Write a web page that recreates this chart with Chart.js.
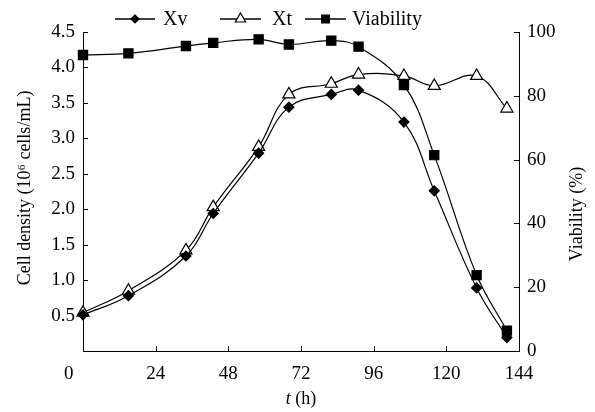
<!DOCTYPE html>
<html><head><meta charset="utf-8">
<script src="https://cdn.jsdelivr.net/npm/chart.js@4/dist/chart.umd.min.js"></script>
<style>html,body{margin:0;padding:0;background:#fff}#wrap{width:595px;height:412px;position:relative}</style>
</head><body><div id="wrap"><canvas id="c" width="595" height="412"></canvas></div>
<script>
// ---- data ----
const times = [0, 15, 34, 43, 58, 68, 82, 91, 106, 116, 130, 140];
const xv = [0.51, 0.78, 1.34, 1.94, 2.79, 3.44, 3.62, 3.68, 3.23, 2.26, 0.89, 0.19];
const xt = [0.54, 0.85, 1.42, 2.03, 2.88, 3.62, 3.77, 3.90, 3.88, 3.74, 3.88, 3.42];
const viability = [92.8, 93.3, 95.6, 96.6, 97.7, 96.1, 97.3, 95.4, 83.4, 61.4, 23.8, 6.4];
const xTicks = [0, 24, 48, 72, 96, 120, 144];
const leftTicks = [0.5, 1.0, 1.5, 2.0, 2.5, 3.0, 3.5, 4.0, 4.5];
const rightTicks = [0, 20, 40, 60, 80, 100];
const seriesNames = ['Xv', 'Xt', 'Viability'];
const leftTitle = 'Cell density (10\u2076 cells/mL)';
const rightTitle = 'Viability (%)';
const xTitleItalic = 't';
const xTitleRest = ' (h)';

const FONT = '"Liberation Serif", "Times New Roman", serif';
const pts = (ys) => times.map((t, i) => ({x: t, y: ys[i]}));

const common = {borderColor: '#000', borderWidth: 1.2, tension: 0.4, clip: false, pointBorderColor: '#000', pointBorderWidth: 1.2};
const datasets = [
  Object.assign({}, common, {label: seriesNames[0], data: pts(xv), yAxisID: 'y', pointStyle: 'rectRot', pointRadius: 5, pointBackgroundColor: '#000'}),
  Object.assign({}, common, {label: seriesNames[1], data: pts(xt), yAxisID: 'y', pointStyle: 'triangle', pointRadius: 7, pointBackgroundColor: '#fff'}),
  Object.assign({}, common, {label: seriesNames[2], data: pts(viability), yAxisID: 'y1', pointStyle: 'rect', pointRadius: 6.5, pointBackgroundColor: '#000'})
];

const decor = {
  id: 'decor',
  afterDraw(chart) {
    const ctx = chart.ctx, a = chart.chartArea, s = chart.scales;
    ctx.save();
    ctx.strokeStyle = '#000'; ctx.lineWidth = 1;
    // inward tick marks
    const L = 5;
    xTicks.forEach(v => { if (v === 0 || v === 144) return; const px = Math.round(s.x.getPixelForValue(v)) + 0.5; ctx.beginPath(); ctx.moveTo(px, a.bottom); ctx.lineTo(px, a.bottom - L); ctx.stroke(); });
    leftTicks.forEach(v => { const py = Math.round(s.y.getPixelForValue(v)) + 0.5; ctx.beginPath(); ctx.moveTo(a.left, py); ctx.lineTo(a.left + L, py); ctx.stroke(); });
    rightTicks.forEach(v => { if (v === 0) return; const py = Math.round(s.y1.getPixelForValue(v)) + 0.5; ctx.beginPath(); ctx.moveTo(a.right, py); ctx.lineTo(a.right - L, py); ctx.stroke(); });
    // axis titles
    ctx.fillStyle = '#000';
    ctx.font = '18px ' + FONT;
    ctx.textAlign = 'center'; ctx.textBaseline = 'middle';
    ctx.save(); ctx.translate(25, 188); ctx.rotate(-Math.PI / 2); ctx.fillText(leftTitle, 0, 0); ctx.restore();
    ctx.save(); ctx.translate(577, 214); ctx.rotate(-Math.PI / 2); ctx.fillText(rightTitle, 0, 0); ctx.restore();
    // x title with italic t
    ctx.textAlign = 'left';
    ctx.font = 'italic 18px ' + FONT; const w1 = ctx.measureText(xTitleItalic).width;
    ctx.font = '18px ' + FONT; const w2 = ctx.measureText(xTitleRest).width;
    const cx = (a.left + a.right) / 2, x0 = cx - (w1 + w2) / 2, ty = 399;
    ctx.font = 'italic 18px ' + FONT; ctx.fillText(xTitleItalic, x0, ty);
    ctx.font = '18px ' + FONT; ctx.fillText(xTitleRest, x0 + w1, ty);
    // legend
    const ly = 19;
    const items = [{x0: 115, x1: 155, tx: 163}, {x0: 220, x1: 261, tx: 272}, {x0: 305, x1: 346, tx: 352}];
    ctx.font = '20px ' + FONT; ctx.textBaseline = 'middle';
    items.forEach((it, i) => {
      const ds = chart.data.datasets[i];
      ctx.lineWidth = 1.5; ctx.strokeStyle = '#000';
      ctx.beginPath(); ctx.moveTo(it.x0, ly); ctx.lineTo(it.x1, ly); ctx.stroke();
      ctx.lineWidth = 1.2; ctx.fillStyle = ds.pointBackgroundColor;
      Chart.helpers.drawPoint(ctx, {pointStyle: ds.pointStyle, radius: ds.pointRadius - 1, borderWidth: 1.2, rotation: 0}, (it.x0 + it.x1) / 2, ly);
      ctx.fillStyle = '#000';
      ctx.fillText(ds.label, it.tx, ly + 1);
    });
    ctx.restore();
  }
};

const tickFont = {family: FONT, size: 19};
new Chart(document.getElementById('c'), {
  type: 'line',
  data: {datasets},
  options: {
    responsive: false, animation: false, devicePixelRatio: 1,
    layout: {padding: {top: 32, left: 0, right: 0, bottom: 0}},
    plugins: {legend: {display: false}, tooltip: {enabled: false}},
    scales: {
      x: {type: 'linear', min: 0, max: 144,
          afterBuildTicks: sc => { sc.ticks = xTicks.map(v => ({value: v})); },
          afterFit: sc => { sc.height = 61; },
          grid: {display: false, drawTicks: false},
          border: {display: true, color: '#000', width: 1},
          ticks: {color: '#000', font: tickFont, padding: 12, maxRotation: 0,
                  callback: v => v === 0 ? '0\u2007\u2007\u2007' : String(v)}},
      y: {position: 'left', min: 0, max: 4.5,
          afterBuildTicks: sc => { sc.ticks = leftTicks.map(v => ({value: v})); },
          afterFit: sc => { sc.width = 83; },
          grid: {display: false, drawTicks: false},
          border: {display: true, color: '#000', width: 1},
          ticks: {color: '#000', font: tickFont, padding: 8, callback: v => v.toFixed(1)}},
      y1: {position: 'right', min: 0, max: 100,
          afterBuildTicks: sc => { sc.ticks = rightTicks.map(v => ({value: v})); },
          afterFit: sc => { sc.width = 76; },
          grid: {display: false, drawTicks: false},
          border: {display: true, color: '#000', width: 1},
          ticks: {color: '#000', font: tickFont, padding: 8}}
    }
  },
  plugins: [decor]
});
</script></body></html>
